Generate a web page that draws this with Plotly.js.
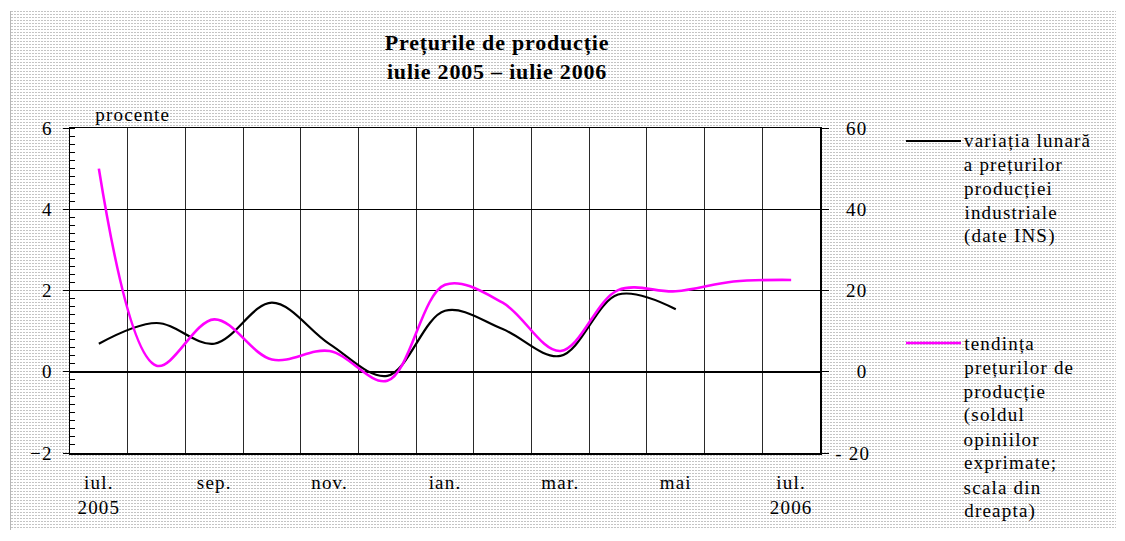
<!DOCTYPE html>
<html>
<head>
<meta charset="utf-8">
<script src="https://cdn.plot.ly/plotly-3.0.1.min.js"></script>
<style>
  html, body { margin: 0; padding: 0; background: #ffffff; }
  #bg {
    position: absolute; left: 10px; top: 11px; width: 1105px; height: 519px;
    border-left: 1px solid #b8b8b8;
    background-image: url("data:image/svg+xml;utf8,<svg xmlns='http://www.w3.org/2000/svg' width='3' height='3'><rect x='0' y='0' width='2' height='1' fill='%23c4c4c4'/></svg>");
    background-size: 3px 3px;
  }
  #chart { position: absolute; left: 0; top: 0; width: 1125px; height: 541px; }
  #chart text { letter-spacing: 1.2px; }
  #chart text.gtitle { letter-spacing: 0.8px; }
</style>
</head>
<body>
<div id="bg"></div>
<div id="chart"></div>
<script>
// ---- data ----
const months = ['iul. 2005','aug.','sep.','oct.','nov.','dec.','ian. 2006','feb.','mar.','apr.','mai','iun.','iul. 2006'];
const tickLabels = ['iul.<br>2005','sep.','nov.','ian.','mar.','mai','iul.<br>2006'];
const tickMonthIndex = [0, 2, 4, 6, 8, 10, 12];
// monthly change of industrial producer prices (%, left scale), iul. 2005 - mai 2006
const variatiaLunara = [0.69, 1.2, 0.69, 1.7, 0.68, -0.1, 1.5, 1.05, 0.39, 1.9, 1.54];
// producer price trend (balance of opinions, right scale), iul. 2005 - iul. 2006
const tendintaPreturi = [50, 1.5, 12.9, 3.0, 5.1, -2.2, 21.4, 17.0, 5.1, 20.1, 19.8, 22.2, 22.6];
const leftTicks = [-2, 0, 2, 4, 6];
const leftTickText = ['\u22122', '0', '2', '4', '6'];
const rightTicks = [-20, 0, 20, 40, 60];
const rightTickText = ['- 20', '\u2007\u20070', '\u200720', '\u200740', '\u200760'];
const legendBlackLines = ['variația lunară', 'a prețurilor', 'producției', 'industriale', '(date INS)'];
const legendMagentaLines = ['tendința', 'prețurilor de', 'producție', '(soldul', 'opiniilor', 'exprimate;', 'scala din', 'dreapta)'];

// ---- geometry (pixels) ----
const W = 1125, H = 541;
const L = 70, R = 820, T = 128, B = 453;
const px2x = p => (p - L) / (R - L);
const px2y = p => (B - p) / (B - T);

const font = '"Liberation Serif", "Times New Roman", serif';
const FS = 19;
const LS = 1.2; // letter spacing applied by CSS (px)

const traces = [
  {
    x: variatiaLunara.map((_, i) => i),
    y: variatiaLunara,
    type: 'scatter', mode: 'lines',
    line: { color: '#000000', width: 2.2, shape: 'spline', smoothing: 1 },
    name: 'variația lunară a prețurilor producției industriale (date INS)',
    yaxis: 'y', hoverinfo: 'skip'
  },
  {
    x: tendintaPreturi.map((_, i) => i),
    y: tendintaPreturi,
    type: 'scatter', mode: 'lines',
    line: { color: '#ff00ff', width: 2.6, shape: 'spline', smoothing: 1 },
    name: 'tendința prețurilor de producție',
    yaxis: 'y2', hoverinfo: 'skip'
  }
];

const minorX = months.slice(1).map((_, i) => i + 0.5);

// left-anchored text lines; compensate the CSS letter spacing (text is centred in its box)
const leftText = (t, xPx, yPx) => ({
  text: t, xref: 'paper', yref: 'paper',
  x: px2x(xPx + t.length * LS / 2), y: px2y(yPx), xanchor: 'left', yanchor: 'middle',
  showarrow: false, font: { family: font, size: FS }
});
const legendAnn = (lines, yFirst) => lines.map((t, i) => leftText(t, 962, yFirst + i * 24));

const layout = {
  width: W, height: H,
  margin: { l: L, r: W - R, t: T, b: H - B, pad: 0 },
  paper_bgcolor: 'rgba(0,0,0,0)',
  plot_bgcolor: '#ffffff',
  showlegend: false,
  font: { family: font, size: FS, color: '#000000' },
  title: {
    text: '<b>Prețurile de producție<br>iulie 2005 – iulie 2006</b>',
    font: { family: font, size: 22, color: '#000000' },
    x: 497 / W, xref: 'container', xanchor: 'center',
    y: 1 - 50 / H, yref: 'container', yanchor: 'middle'
  },
  xaxis: {
    range: [-0.5, months.length - 0.5],
    tickmode: 'array', tickvals: tickMonthIndex, ticktext: tickLabels,
    ticks: 'outside', ticklen: 12, tickcolor: 'rgba(0,0,0,0)',
    showgrid: false, zeroline: false,
    showline: true, linecolor: '#000000', linewidth: 1.5, mirror: true,
    tickfont: { family: font, size: FS },
    minor: { tickmode: 'array', tickvals: minorX, showgrid: true, gridcolor: '#2a2a2a', gridwidth: 1, ticks: '' },
    fixedrange: true
  },
  yaxis: {
    range: [-2, 6],
    tickmode: 'array', tickvals: leftTicks, ticktext: leftTickText,
    ticks: 'outside', ticklen: 6, tickcolor: '#000000', tickwidth: 1,
    ticklabelstandoff: 6,
    showgrid: true, gridcolor: '#000000', gridwidth: 1,
    zeroline: true, zerolinecolor: '#000000', zerolinewidth: 2.2,
    showline: true, linecolor: '#000000', linewidth: 1.5,
    tickfont: { family: font, size: FS },
    minor: { tickmode: 'linear', tick0: -2, dtick: 0.2, ticks: 'inside', ticklen: 5, tickcolor: '#000000', tickwidth: 1, showgrid: false },
    fixedrange: true
  },
  yaxis2: {
    range: [-20, 60], overlaying: 'y', side: 'right',
    tickmode: 'array', tickvals: rightTicks, ticktext: rightTickText,
    ticks: 'outside', ticklen: 7, tickcolor: '#000000', tickwidth: 1,
    ticklabelstandoff: 3,
    showgrid: false, zeroline: false,
    showline: true, linecolor: '#000000', linewidth: 1.5,
    tickfont: { family: font, size: FS },
    fixedrange: true
  },
  annotations: [leftText('procente', 93, 114)]
    .concat(legendAnn(legendBlackLines, 140))
    .concat(legendAnn(legendMagentaLines, 343)),
  shapes: [
    { type: 'line', xref: 'paper', yref: 'paper', x0: px2x(906), x1: px2x(961), y0: px2y(141), y1: px2y(141),
      line: { color: '#000000', width: 2.2 } },
    { type: 'line', xref: 'paper', yref: 'paper', x0: px2x(906), x1: px2x(961), y0: px2y(343), y1: px2y(343),
      line: { color: '#ff00ff', width: 2.6 } }
  ]
};

Plotly.newPlot('chart', traces, layout, { staticPlot: true, displayModeBar: false });
</script>
</body>
</html>
